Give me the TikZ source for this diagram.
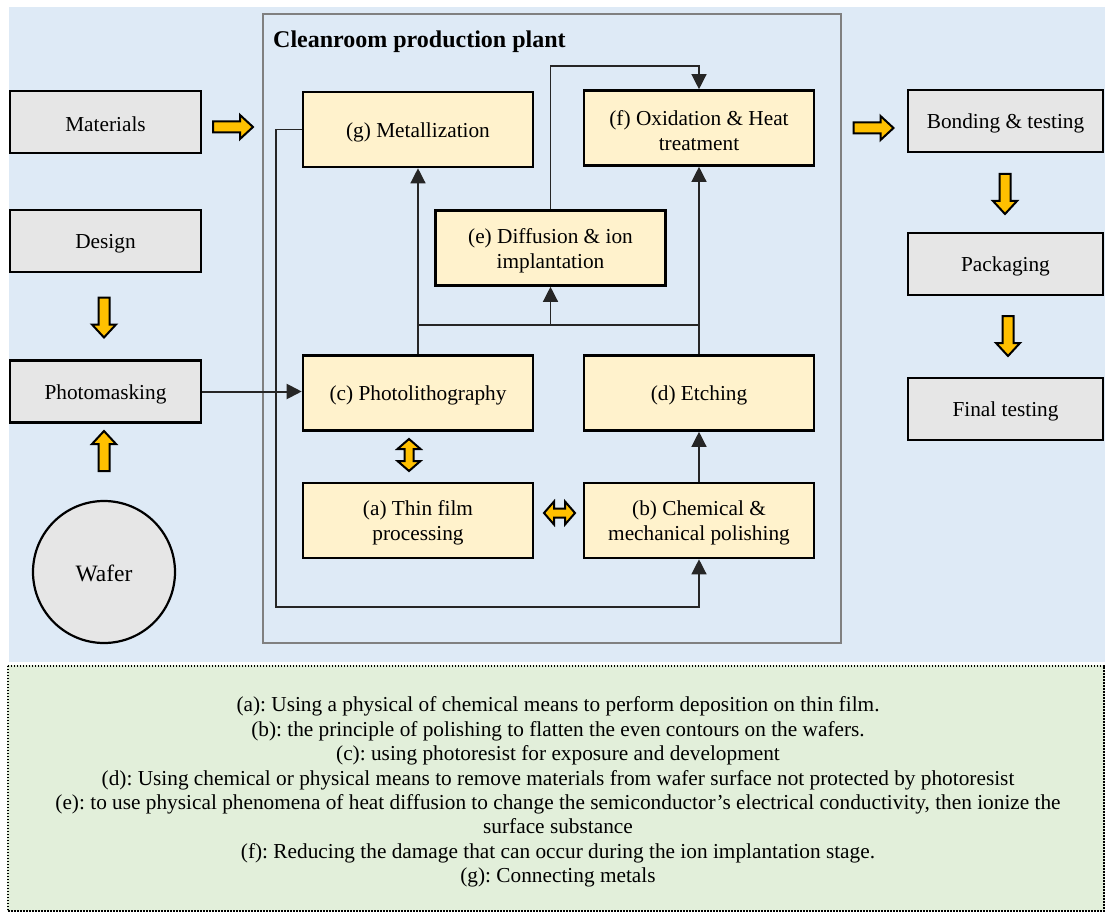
\documentclass[tikz,border=0pt]{standalone}
\usepackage{fontspec}
\setmainfont{Liberation Serif}
\usetikzlibrary{arrows.meta,calc}
\frenchspacing
\definecolor{skyfill}{HTML}{DEEAF6}
\definecolor{notefill}{HTML}{E2EFDA}
\definecolor{greybox}{HTML}{E6E6E6}
\definecolor{stepfill}{HTML}{FFF2CC}
\definecolor{amber}{HTML}{FFC000}
\definecolor{framegrey}{HTML}{808080}
\definecolor{wire}{HTML}{262626}

% extra height on the first line of a label, to sit it a little lower in its box
\newcommand{\toplift}{\rule{0pt}{0.94em}}

\tikzset{
  txt/.style={font=\fontsize{21.3}{25}\selectfont, align=center, text=black},
  outerbox/.style={txt, draw=black, line width=2.6pt, fill=greybox, rectangle,
                   minimum width=191pt, minimum height=62pt, inner sep=0pt},
  stepbox/.style={txt, draw=black, line width=2.6pt, fill=stepfill, rectangle,
                  minimum width=230pt, minimum height=75pt, inner sep=0pt},
  conn/.style={draw=wire, line width=1.3pt, -{Triangle[length=15pt,width=15pt]}},
  plainwire/.style={draw=wire, line width=1.3pt},
  amberarrow/.style={fill=amber, draw=black, line width=2pt, line join=miter},
  % block arrows (centred on the pic origin)
  arrright/.pic={\path[amberarrow] (-20,-5.5) -- (7,-5.5) -- (7,-12) -- (20,0)
      -- (7,12) -- (7,5.5) -- (-20,5.5) -- cycle;},
  arrdown/.pic={\path[amberarrow] (-5.5,-20) -- (-5.5,7) -- (-12,7) -- (0,20)
      -- (12,7) -- (5.5,7) -- (5.5,-20) -- cycle;},
  arrup/.pic={\path[amberarrow] (-5.5,20) -- (-5.5,-7) -- (-12,-7) -- (0,-20)
      -- (12,-7) -- (5.5,-7) -- (5.5,20) -- cycle;},
  arrboth/.pic={\path[amberarrow] (-15.5,0) -- (-5.5,-11.5) -- (-5.5,-4.5)
      -- (5.5,-4.5) -- (5.5,-11.5) -- (15.5,0) -- (5.5,11.5) -- (5.5,4.5)
      -- (-5.5,4.5) -- (-5.5,11.5) -- cycle;},
  arrupdown/.pic={\path[amberarrow] (0,-16) -- (-11.5,-6) -- (-4.5,-6)
      -- (-4.5,6) -- (-11.5,6) -- (0,16) -- (11.5,6) -- (4.5,6)
      -- (4.5,-6) -- (11.5,-6) -- cycle;},
}

\begin{document}
\begin{tikzpicture}[x=1pt,y=-1pt]
\useasboundingbox (0,0) rectangle (1105,912);

% backgrounds
\fill[skyfill] (9,7) rectangle (1105,662);
\fill[notefill] (7,665) rectangle (1105,911);
\draw[black, line width=1.6pt, dash pattern=on 1.6pt off 1.4pt] (7.8,665.8) rectangle (1104.2,911.2);

% cleanroom frame
\draw[framegrey, line width=2.2pt] (263,14) rectangle (841,643);
\node[anchor=west, font=\bfseries\fontsize{24}{28}\selectfont, inner sep=0pt] (title) at (273,42) {Cleanroom production plant};

% left column
\node[outerbox] (mat) at (105.5,122) {\toplift Materials};
\node[outerbox] (des) at (105.5,241) {\toplift Design};
\node[outerbox] (pm) at (105.5,391.5) {\toplift Photomasking};
\node[txt, circle, draw=black, line width=2.2pt, fill=greybox, minimum size=142pt, inner sep=0pt] (wafer) at (104,572) {\fontsize{23.5}{27}\selectfont\rule{0pt}{0.8em}Wafer};

% process steps
\node[stepbox] (g) at (418,129.5) {\toplift(g) Metallization};
\node[stepbox] (f) at (699,128) {\toplift(f) Oxidation \& Heat\\treatment};
\node[stepbox] (e) at (550.5,248) {\toplift(e) Diffusion \& ion\\implantation};
\node[stepbox] (c) at (418,393) {\toplift(c) Photolithography};
\node[stepbox] (d) at (699,393) {\toplift(d) Etching};
\node[stepbox] (a) at (418,520.5) {\toplift(a) Thin film\\processing};
\node[stepbox] (b) at (699,520.5) {\toplift(b) Chemical \&\\mechanical polishing};

% right column
\node[outerbox, minimum width=195pt] (bond) at (1005.5,121) {\toplift Bonding \& testing};
\node[outerbox, minimum width=195pt] (pack) at (1005.5,264) {\toplift Packaging};
\node[outerbox, minimum width=195pt] (final) at (1005.5,409) {\toplift Final testing};

% connectors
\coordinate (bus) at (550.5,325);
\coordinate (top) at (699,66);
\coordinate (loop) at (276,607);
\draw[conn, line width=2pt] (pm.east) -- (pm.east -| c.west);
\draw[conn] (c.north) -- (g.south);
\draw[conn] (d.north) -- (f.south);
\draw[plainwire] (c.north |- bus) -- (d.north |- bus);
\draw[conn] (bus) -- (e.south);
\draw[conn] (e.north) |- (top) -- (f.north);
\draw[conn] (g.west) -| (loop) -| (b.south);
\draw[conn] (b.north) -- (d.south);

% block arrows
\pic at (233,127) {arrright};
\pic at (873.5,128) {arrright};
\pic at (104,317.5) {arrdown};
\pic at (104,451) {arrup};
\pic at (1005,194) {arrdown};
\pic at (1008,336) {arrdown};
\pic at (409,455) {arrupdown};
\pic at (559.5,513) {arrboth};

% notes
\node[txt, font=\fontsize{21.3}{24.4}\selectfont, inner sep=0pt] (notes) at (558,792) {%
(a): Using a physical of chemical means to perform deposition on thin film.\\
(b): the principle of polishing to flatten the even contours on the wafers.\\
(c): using photoresist for exposure and development\\
(d): Using chemical or physical means to remove materials from wafer surface not protected by photoresist\\
(e): to use physical phenomena of heat diffusion to change the semiconductor’s electrical conductivity, then ionize the\\
surface substance\\
(f): Reducing the damage that can occur during the ion implantation stage.\\
(g): Connecting metals};
\end{tikzpicture}
\end{document}
